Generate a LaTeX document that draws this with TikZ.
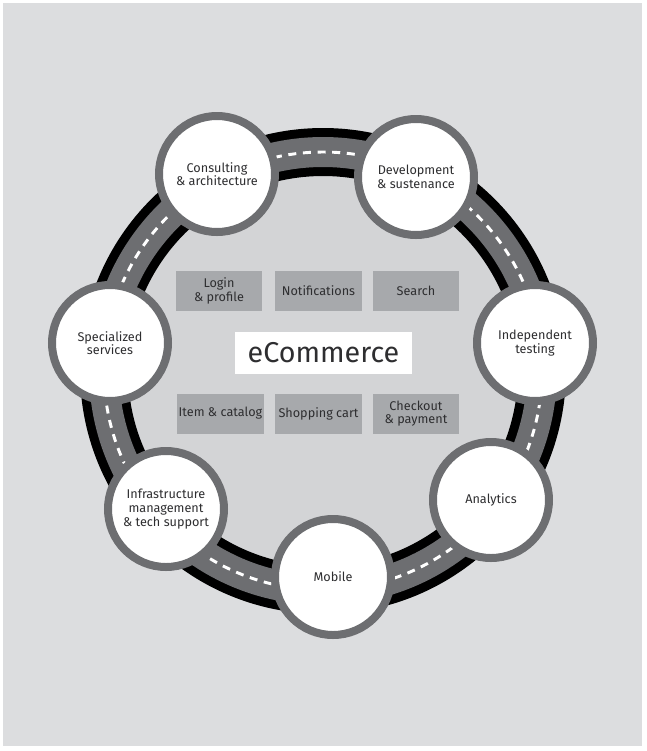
\documentclass[tikz,border=0pt]{standalone}
\usepackage{fontspec}
\setmainfont{Fira Sans}
\definecolor{bgout}{HTML}{DCDDDF}
\definecolor{bgin}{HTML}{D3D4D6}
\definecolor{roadgray}{HTML}{6D6E71}
\definecolor{tilegray}{HTML}{A7A9AC}
\definecolor{txt}{HTML}{2E2E30}
\begin{document}
\begin{tikzpicture}[x=0.75pt,y=-0.75pt,font=\fontsize{9.5}{10.3}\selectfont,
	stop/.style={circle,draw=roadgray,line width=6pt,fill=white,minimum size=87pt,inner sep=0pt,align=center,text=txt},
	tile/.style={fill=tilegray,minimum width=65pt,minimum height=30pt,inner sep=0pt,align=center,text=txt}]
			\useasboundingbox (0,0) rectangle (647,751);
			\fill[bgout] (3,3) rectangle (642,746);
			\fill[bgin] (323,371) circle (196);
			\draw[black,line width=36pt] (323,371) circle (219);
			\draw[roadgray,line width=22.5pt] (323,371) circle (219);
			\draw[white,line width=2.2pt,dash pattern=on 6pt off 5pt] (323,371) circle (219);
			\node[stop] (consult) at (217,174) {Consulting\\\& architecture};
			\node[stop] (dev) at (416,177) {Development\\\& sustenance};
			\node[stop] (test) at (535,343) {Independent\\testing};
			\node[stop] (analytics) at (491,500) {Analytics};
			\node[stop] (mobile) at (333,577) {Mobile};
			\node[stop] (infra) at (166,509) {Infrastructure\\management\\\& tech support};
			\node[stop] (special) at (110,343) {Specialized\\services};
			\node[tile] (login) at (219,291) {Login\\\& profile};
			\node[tile] (notif) at (318.5,291) {Notifications};
			\node[tile] (search) at (416,291) {Search};
			\node[tile] (item) at (220.5,413.5) {Item \& catalog};
			\node[tile] (cart) at (318.5,413.5) {Shopping cart};
			\node[tile] (checkout) at (416,413.5) {Checkout\\\& payment};
			\node[fill=white,minimum width=133pt,minimum height=31.5pt,inner sep=0pt,text=txt,font=\fontsize{21.5}{25}\selectfont] (ecom) at (323.5,353) {eCommerce};
	\end{tikzpicture}
\end{document}
